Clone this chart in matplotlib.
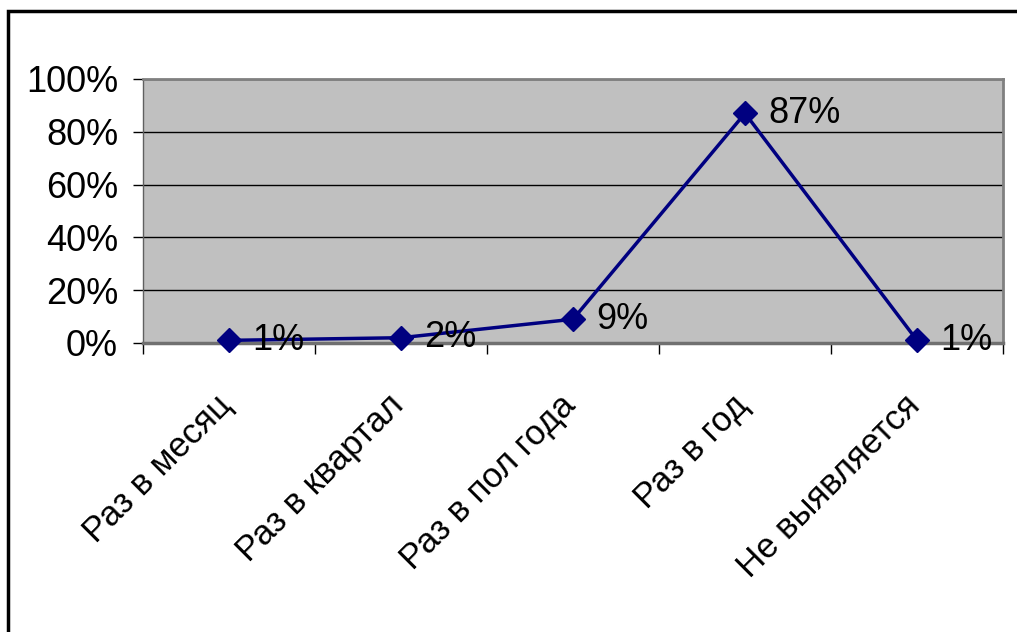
import numpy as np
import matplotlib.pyplot as plt
from matplotlib.patches import Rectangle
from matplotlib.ticker import FixedLocator, PercentFormatter

categories = ['Раз в месяц', 'Раз в квартал', 'Раз в пол года', 'Раз в год', 'Не выявляется']
values = [0.01, 0.02, 0.09, 0.87, 0.01]
value_labels = ['1%', '2%', '9%', '87%', '1%']

plt.rcParams['font.family'] = ['Liberation Sans', 'DejaVu Sans']

fig = plt.figure(figsize=(10.17, 6.32), dpi=100)
ax = fig.add_axes([143/1017, 1 - 343/632, 860/1017, 264/632])
ax.set_facecolor('#c0c0c0')

x = np.arange(len(categories))
ax.plot(x, values, color='#000080', lw=2.5, marker='D', markersize=12,
        markerfacecolor='#000080', markeredgecolor='#000080', zorder=5, clip_on=False)
for xi, v, lab in zip(x, values, value_labels):
    ax.annotate(lab, (xi, v), xytext=(17, 0), textcoords='offset points',
                ha='left', va='center', fontsize=26, zorder=6)

# category labels, rotated 45 deg, ending just under each category centre
for xi, cat in zip(x, categories):
    ax.annotate(cat, (xi, 0), xycoords=('data', 'axes fraction'),
                xytext=(-10, -33), textcoords='offset points',
                rotation=45, rotation_mode='anchor', ha='right', va='top',
                fontsize=25, annotation_clip=False)

ax.set_xlim(-0.5, len(categories) - 0.5)
ax.set_ylim(0, 1)
ax.set_yticks(np.arange(0, 1.01, 0.2))
ax.yaxis.set_major_formatter(PercentFormatter(1.0, decimals=0))
ax.grid(axis='y', color='black', lw=1)
ax.set_axisbelow(True)

ax.set_xticks(x)
ax.set_xticklabels([])
ax.xaxis.set_minor_locator(FixedLocator(np.arange(-0.5, len(categories), 1)))
ax.tick_params(axis='x', which='major', length=0)
ax.tick_params(axis='x', which='minor', length=8, width=1, direction='out', color='black')
ax.tick_params(axis='y', length=7, width=1, direction='out', labelsize=26, pad=11)

for s in ['top', 'right']:
    ax.spines[s].set_color('#808080')
    ax.spines[s].set_linewidth(2)
ax.spines['left'].set_color('#606060')
ax.spines['left'].set_linewidth(1)
ax.spines['bottom'].set_color('#707070')
ax.spines['bottom'].set_linewidth(2.5)

# outer chart frame (right/bottom edges run off the picture)
fig.add_artist(Rectangle((8/1017, -0.2), 1.2, 1.2 - 11/632, transform=fig.transFigure,
                         fill=False, edgecolor='black', lw=2.5))

fig.savefig('out.png', dpi=100)
